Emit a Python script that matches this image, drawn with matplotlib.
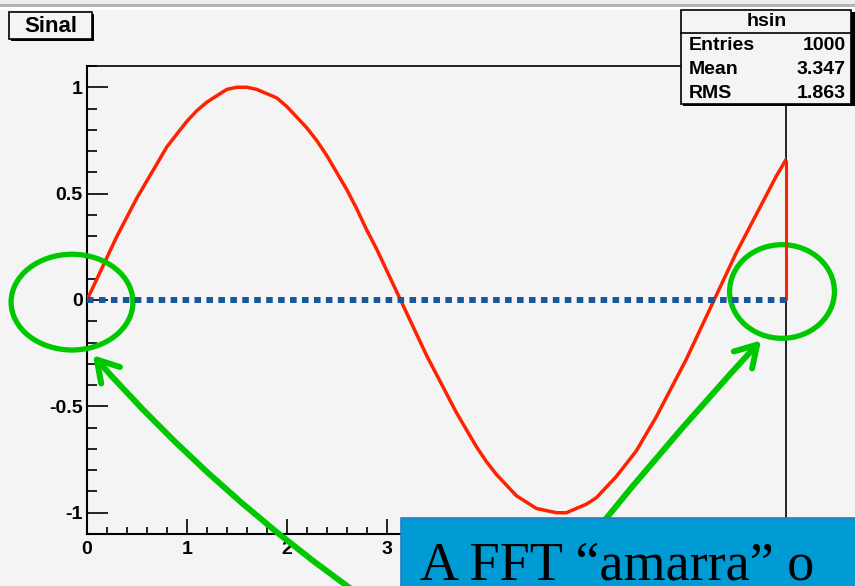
import numpy as np
import matplotlib.pyplot as plt
from matplotlib.patches import Ellipse, Rectangle
from matplotlib.ticker import MultipleLocator

# hsin contents (sampled every 0.1 along x)
x = np.round(np.arange(0, 7.01, 0.1), 2)
sinal = [0.00, 0.10, 0.20, 0.30, 0.39, 0.48, 0.56, 0.64, 0.72, 0.78,
         0.84, 0.89, 0.93, 0.96, 0.99, 1.00, 1.00, 0.99, 0.97, 0.95,
         0.91, 0.86, 0.81, 0.75, 0.68, 0.60, 0.52, 0.43, 0.33, 0.24,
         0.14, 0.04, -0.06, -0.16, -0.26, -0.35, -0.44, -0.53, -0.61, -0.69,
         -0.76, -0.82, -0.87, -0.92, -0.95, -0.98, -0.99, -1.00, -1.00, -0.98,
         -0.96, -0.93, -0.88, -0.83, -0.77, -0.71, -0.63, -0.55, -0.46, -0.37,
         -0.28, -0.18, -0.08, 0.02, 0.12, 0.22, 0.31, 0.40, 0.49, 0.58,
         0.66]

hist_name = "hsin"
entries = 1000
mean = 3.347
rms = 1.863

x_ticks = [0, 1, 2, 3, 4, 5, 6, 7]
x_labels = ['0', '1', '2', '3', '', '', '', '']   # 4..7 sit under the caption
y_ticks = [-1, -0.5, 0, 0.5, 1]
y_labels = ['-1', '-0.5', '0', '0.5', '1']

bg = '#f4f4f4'
verde = '#00c800'

plt.rcParams['font.family'] = ['Liberation Sans', 'DejaVu Sans']

fig = plt.figure(figsize=(8.55, 5.86), dpi=100, facecolor=bg)
W, H = 855, 586
ax = fig.add_axes([87 / W, 52 / H, 699 / W, 468 / H], facecolor=bg)

ax.plot(x, sinal, color='#ff2200', lw=2.5, zorder=3)
ax.vlines(x[-1], 0, sinal[-1], color='#ff2200', lw=2.2, zorder=6,
          clip_on=False)
ax.plot([0, 7.05], [0, 0], color='#17579a', lw=4.3,
        dashes=(1.1, 0.9), dash_capstyle='butt', clip_on=False, zorder=7)

ax.set_xlim(0, 7)
ax.set_ylim(-1.1, 1.1)
ax.set_xticks(x_ticks)
ax.set_xticklabels(x_labels)
ax.xaxis.set_minor_locator(MultipleLocator(0.2))
ax.set_yticks(y_ticks)
ax.set_yticklabels(y_labels)
ax.yaxis.set_minor_locator(MultipleLocator(0.1))
ax.tick_params(axis='both', which='both', direction='in', width=1.4,
               color='#222222', labelsize=14)
ax.tick_params(axis='y', which='major', length=15, pad=3)
ax.tick_params(axis='y', which='minor', length=7.5)
ax.tick_params(axis='x', which='major', length=11, pad=5)
ax.tick_params(axis='x', which='minor', length=5)
for lab in ax.get_xticklabels() + ax.get_yticklabels():
    lab.set_fontweight('bold')
for side in ['left', 'bottom']:
    ax.spines[side].set_linewidth(1.5)
for side in ['top', 'right']:
    ax.spines[side].set_linewidth(1.2)

# circles around the ends of the signal
ax.add_patch(Ellipse((-0.15, -0.01), 1.22, 0.45, fill=False, ec=verde,
                     lw=3.8, clip_on=False, zorder=5))
ax.add_patch(Ellipse((6.96, 0.04), 1.05, 0.44, fill=False, ec=verde,
                     lw=3.8, clip_on=False, zorder=5))

seta = dict(arrowstyle='->,head_length=0.75,head_width=0.45', color=verde,
            lw=4.3, mutation_scale=20, shrinkA=0, shrinkB=0,
            capstyle='round', joinstyle='round')
ax.annotate('', xy=(0.06, -0.26), xytext=(2.83, -1.42),
            arrowprops=dict(seta, connectionstyle='arc3,rad=-0.06'),
            annotation_clip=False, zorder=5)
ax.annotate('', xy=(6.75, -0.19), xytext=(4.73, -1.30),
            arrowprops=dict(seta, connectionstyle='arc3,rad=-0.02'),
            annotation_clip=False, zorder=5)

# pixel overlay for the canvas decorations
ov = fig.add_axes([0, 0, 1, 1], facecolor='none', zorder=10)
ov.set_xlim(0, W)
ov.set_ylim(H, 0)
ov.axis('off')

ov.add_patch(Rectangle((0, 0), W, 4, fc='#ececec', ec='none'))
ov.add_patch(Rectangle((0, 4), W, 3, fc='#b4b4b4', ec='none'))
ov.add_patch(Rectangle((0, 7), W, 3, fc='white', ec='none'))

# title box
ov.add_patch(Rectangle((11, 14), 83, 27, fc='black', ec='none'))
ov.add_patch(Rectangle((9, 12), 83, 27, fc=bg, ec='black', lw=1.2))
ov.text(50.5, 26.5, 'Sinal', ha='center', va='center', fontsize=16,
        fontweight='bold')

# stats box
ov.add_patch(Rectangle((683, 12), 172, 94, fc='black', ec='none'))
ov.add_patch(Rectangle((681, 10), 170, 94, fc=bg, ec='black', lw=1.2))
ov.plot([681, 851], [33, 33], color='black', lw=1.2)
ov.text(767, 22, hist_name, ha='center', va='center', fontsize=14,
        fontweight='bold')
rows = [('Entries', f'{entries}'), ('Mean', f'{mean:.3f}'),
        ('RMS', f'{rms:.3f}')]
for i, (nome, valor) in enumerate(rows):
    yy = 46 + 24 * i
    ov.text(689, yy, nome, ha='left', va='center', fontsize=14,
            fontweight='bold')
    ov.text(846, yy, valor, ha='right', va='center', fontsize=14,
            fontweight='bold')

# caption box
ov.add_patch(Rectangle((401, 518), 460, 80, fc='#009bd5', ec='#2a7cc4',
                       lw=1.2))
ov.text(420, 580, 'A FFT \u201camarra\u201d o', ha='left', va='baseline',
        fontsize=39, family=['Liberation Serif', 'DejaVu Serif'],
        color='black')

fig.savefig('out.png', dpi=100, facecolor=bg)
